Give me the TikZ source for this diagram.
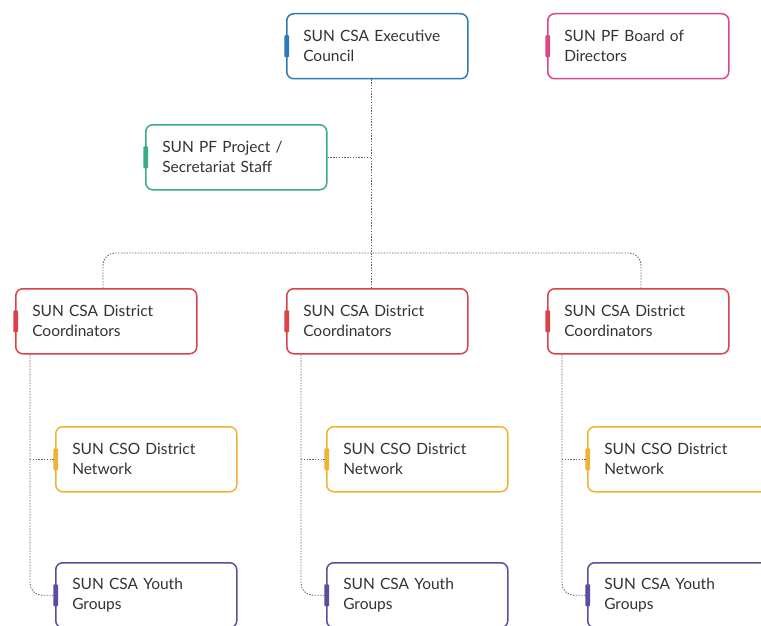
\documentclass[tikz,border=0pt]{standalone}
\usepackage{fontspec}
\setmainfont{Lato}
\definecolor{cblue}{HTML}{2B7BB9}
\definecolor{cpink}{HTML}{D9468C}
\definecolor{cteal}{HTML}{3AAA8A}
\definecolor{cred}{HTML}{D9434A}
\definecolor{corange}{HTML}{F0B232}
\definecolor{cpurple}{HTML}{5A4E9E}
\definecolor{ctext}{HTML}{333333}
\tikzset{
  orgbox/.style={draw=#1, line width=1.5pt, rounded corners=7pt, fill=white,
    minimum width=181pt, minimum height=65pt, text width=148pt, align=left,
    inner xsep=0pt, text=ctext, font=\fontsize{15.5}{20}\selectfont, anchor=north west},
  accent/.style={fill=#1, rounded corners=1pt},
  link/.style={draw=gray!80!black, line width=0.9pt, dash pattern=on 1.4pt off 1.4pt, rounded corners=12pt},
}
\newcommand{\orgnode}[5]{%
  \node[orgbox=#4] (#1) at (#2,#3) {#5};
  \fill[accent=#4] ($(#1.west)+(-1.6,-11)$) rectangle ($(#1.west)+(3,11)$);
}
\usetikzlibrary{calc}
\begin{document}
\begin{tikzpicture}[x=1pt,y=-1pt]
\useasboundingbox (0,0) rectangle (761,626);
\clip (0,0) rectangle (761,626);
\fill[white] (0,0) rectangle (761,626);
\coordinate (vx) at (371,0);
\coordinate (hy) at (0,253);
\orgnode{exec}{286}{13}{cblue}{SUN CSA Executive\\Council}
\orgnode{board}{547}{13}{cpink}{SUN PF Board of\\Directors}
\orgnode{staff}{145}{124}{cteal}{SUN PF Project /\\Secretariat Staff}
\orgnode{dl}{15}{288}{cred}{SUN CSA District\\Coordinators}
\orgnode{dm}{286}{288}{cred}{SUN CSA District\\Coordinators}
\orgnode{dr}{547}{288}{cred}{SUN CSA District\\Coordinators}
\orgnode{nl}{55}{426}{corange}{SUN CSO District\\Network}
\orgnode{nm}{326}{426}{corange}{SUN CSO District\\Network}
\orgnode{nr}{587}{426}{corange}{SUN CSO District\\Network}
\orgnode{yl}{55}{562}{cpurple}{SUN CSA Youth\\Groups}
\orgnode{ym}{326}{562}{cpurple}{SUN CSA Youth\\Groups}
\orgnode{yr}{587}{562}{cpurple}{SUN CSA Youth\\Groups}
% links
\path[link] (exec.south -| vx) -- (dm.north -| vx);
\path[link] (staff.east) -- (staff.east -| vx);
\path[link] ($(dl.north west)+(88,0)$) |- (hy -| vx);
\path[link] ($(dr.north west)+(94,0)$) |- (hy -| vx);
\foreach \d/\n/\y in {dl/nl/yl, dm/nm/ym, dr/nr/yr}{
  \path[link] ($(\d.south west)+(15,0)$) |- (\y.west);
  \path[link, rounded corners=0pt] (\n.west -| {$(\d.south west)+(15,0)$}) -- (\n.west);
}
\end{tikzpicture}
\end{document}
